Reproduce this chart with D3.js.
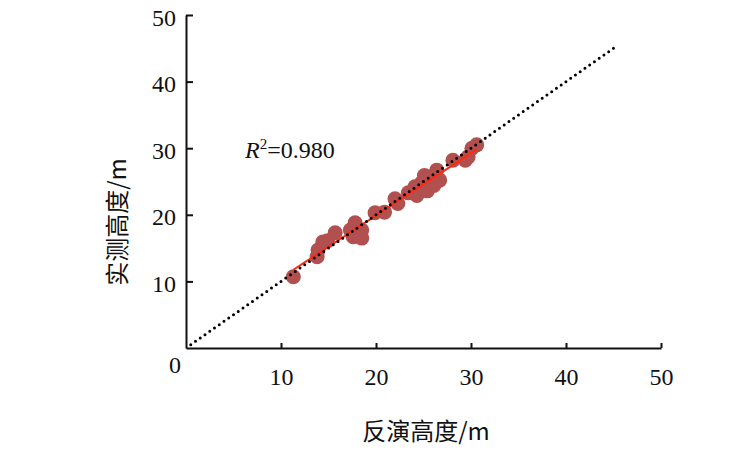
<!DOCTYPE html>
<html>
<head>
<meta charset="utf-8">
<script src="https://cdn.jsdelivr.net/npm/d3@7"></script>
<style>
  body { margin: 0; background: #fff; }
  text { font-family: "Liberation Serif", "Times New Roman", serif; }
  .cjk { font-family: "Noto Sans CJK SC", serif; }
</style>
</head>
<body>
<svg id="chart" width="750" height="459"></svg>
<script>
var retrieved = [11.3, 13.8, 13.9, 14.4, 14.9, 15.7,
                 17.3, 17.6, 17.8, 18.5, 18.5, 17.9,
                 19.9, 20.9, 22.0, 22.3,
                 23.4, 24.1, 24.3, 24.8, 25.4, 25.7, 26.4, 26.7, 26.1, 25.1,
                 28.1, 29.4, 29.7, 30.1, 30.6];
var measured  = [10.7, 13.7, 14.7, 15.9, 16.1, 17.3,
                 17.7, 16.7, 18.8, 17.7, 16.5, 17.0,
                 20.3, 20.4, 22.4, 21.7,
                 23.3, 24.2, 22.9, 24.8, 23.6, 25.7, 26.7, 25.2, 24.4, 25.9,
                 28.2, 28.2, 28.7, 30.0, 30.5];
var tickVals = [10, 20, 30, 40, 50];
var r2Text = "0.980";

var svg = d3.select("#chart");

var x = d3.scaleLinear().domain([0, 50]).range([186, 661]);
var y = d3.scaleLinear().domain([0, 50]).range([348, 15]);

// least squares fit for the red line
var n = retrieved.length,
    mx = d3.mean(retrieved), my = d3.mean(measured),
    sxy = 0, sxx = 0;
for (var i = 0; i < n; i++) {
  sxy += (retrieved[i] - mx) * (measured[i] - my);
  sxx += (retrieved[i] - mx) * (retrieved[i] - mx);
}
var slope = sxy / sxx, icpt = my - slope * mx;
var fitX = d3.extent(retrieved);

// points
svg.append("g")
  .selectAll("circle")
  .data(d3.range(n))
  .enter().append("circle")
    .attr("cx", function(i) { return x(retrieved[i]); })
    .attr("cy", function(i) { return y(measured[i]); })
    .attr("r", 7.5)
    .attr("fill", "#b24f4f");

// fitted line
svg.append("line")
  .attr("x1", x(fitX[0])).attr("y1", y(slope * fitX[0] + icpt))
  .attr("x2", x(fitX[1])).attr("y2", y(slope * fitX[1] + icpt))
  .attr("stroke", "#ff2a10")
  .attr("stroke-width", 2);

// 1:1 line
svg.append("line")
  .attr("x1", x(0.5)).attr("y1", y(0.5))
  .attr("x2", x(45)).attr("y2", y(45))
  .attr("stroke", "#000")
  .attr("stroke-width", 3)
  .attr("stroke-linecap", "round")
  .attr("stroke-dasharray", "0 5.8");

// axes
var xAxis = svg.append("g")
  .attr("transform", "translate(0," + y(0) + ")")
  .call(d3.axisBottom(x).tickValues(tickVals).tickSizeInner(-5).tickSizeOuter(0).tickPadding(20));
var yAxis = svg.append("g")
  .attr("transform", "translate(" + x(0) + ",0)")
  .call(d3.axisLeft(y).tickValues(tickVals).tickSizeInner(-7).tickSizeOuter(0).tickPadding(10));

[xAxis, yAxis].forEach(function(a) {
  a.selectAll("path, line").attr("stroke", "#111").attr("stroke-width", 2);
  a.selectAll("text")
    .attr("fill", "#111")
    .style("font-family", "'Liberation Serif', serif")
    .style("font-size", "24px");
});
yAxis.selectAll("text").attr("dy", "0.42em");

// shared origin label
svg.append("text")
  .attr("x", 175).attr("y", 373)
  .attr("text-anchor", "middle")
  .style("font-size", "24px")
  .attr("fill", "#111")
  .text("0");

// R^2 label
var r2 = svg.append("text")
  .attr("x", 245).attr("y", 158)
  .style("font-size", "24px")
  .attr("fill", "#111");
r2.append("tspan").style("font-style", "italic").text("R");
r2.append("tspan").attr("dy", -9).style("font-size", "15px").text("2");
r2.append("tspan").attr("dy", 9).text("=" + r2Text);

// axis titles
svg.append("text")
  .attr("class", "cjk")
  .attr("x", 426).attr("y", 440)
  .attr("text-anchor", "middle")
  .style("font-size", "24px")
  .attr("fill", "#111")
  .text("反演高度/m");

svg.append("text")
  .attr("class", "cjk")
  .attr("transform", "translate(126,222) rotate(-90)")
  .attr("text-anchor", "middle")
  .style("font-size", "24px")
  .attr("fill", "#111")
  .text("实测高度/m");
</script>
</body>
</html>
